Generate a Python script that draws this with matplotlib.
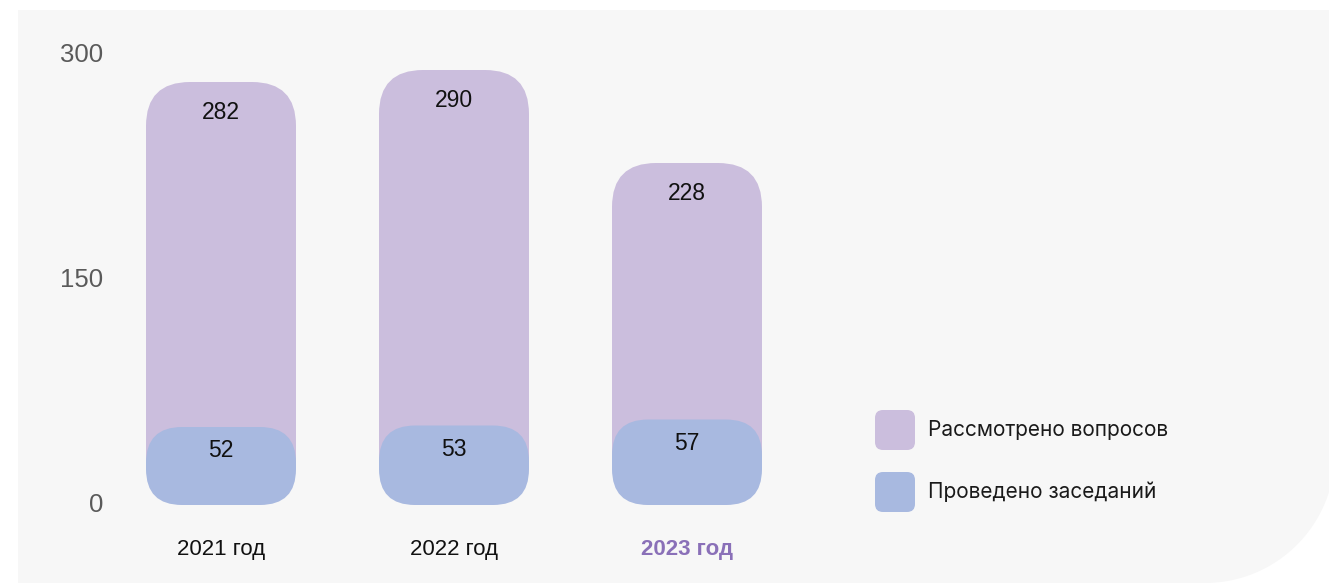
import numpy as np
import matplotlib
matplotlib.use('Agg')
import matplotlib.pyplot as plt
from matplotlib.patches import FancyBboxPatch, Polygon
from matplotlib.transforms import Affine2D

plt.rcParams['font.family'] = ['Liberation Sans', 'DejaVu Sans']

# data
years = ['2021 год', '2022 год', '2023 год']
questions = [282, 290, 228]   # Рассмотрено вопросов
meetings = [52, 53, 57]       # Проведено заседаний
yticks = [0, 150, 300]
legend_labels = ['Рассмотрено вопросов', 'Проведено заседаний']

purple = '#cbbedd'
blue = '#a8b9e0'
accent = '#8a70b8'
panel = '#f7f7f7'

W, H = 1329, 585
fig = plt.figure(figsize=(W / 100, H / 100), dpi=100)
fig.patch.set_facecolor('white')
px = Affine2D().scale(1 / 100) + fig.dpi_scale_trans  # pixel coords from bottom-left

# background panel with rounded bottom-right corner
R, cx, cy = 130, 1205, 453
t = np.linspace(0, np.pi / 2, 40)
arc = [(cx + R * np.cos(a), cy + R * np.sin(a)) for a in t]
pts = [(18, 10), (cx + R, 10)] + arc + [(18, 583)]
pts = [(x, H - y) for x, y in pts]
fig.patches.append(Polygon(pts, closed=True, transform=px, facecolor=panel,
                           edgecolor='none', zorder=-5))

# axes spanning the whole figure; scales chosen to match pixel layout
ax = fig.add_axes([0, 0, 1, 1])
ax.axis('off')
ax.patch.set_visible(False)
x0_px, step_px = 221, 233
zero_px, ppu = 505, 1.5
ax.set_xlim(-x0_px / step_px, (W - x0_px) / step_px)
ax.set_ylim(-(H - zero_px) / ppu, zero_px / ppu)

aspect = (1 / ppu) / (1 / step_px)
bar_w = 150 / step_px
x = np.arange(len(years))


def rounded_bar(xc, h, color, r_px):
    p = FancyBboxPatch((xc - bar_w / 2, 0), bar_w, h,
                       boxstyle=f'round,pad=0,rounding_size={r_px / step_px}',
                       mutation_aspect=aspect, facecolor=color,
                       edgecolor='none', zorder=2)
    ax.add_patch(p)


for i in x:
    rounded_bar(i, questions[i], purple, 44)
    rounded_bar(i, meetings[i], blue, 36)
    ax.annotate(str(questions[i]), (i, questions[i]), xytext=(0, -22),
                textcoords='offset points', ha='center', va='center',
                fontsize=16.5, color='#111111', zorder=3)
    ax.annotate(str(meetings[i]), (i, meetings[i]), xytext=(0, -17),
                textcoords='offset points', ha='center', va='center',
                fontsize=16.5, color='#111111', zorder=3)
    last = i == len(years) - 1
    ax.text(i, (zero_px - 549) / ppu, years[i], ha='center', va='center',
            fontsize=16, color=accent if last else '#111111',
            fontweight='bold' if last else 'normal')

for v in yticks:
    ax.text(103 / W, v, str(v), transform=ax.get_yaxis_transform(),
            ha='right', va='center', fontsize=18.5, color='#5a5a5a')

# legend
for k, (lab, col) in enumerate(zip(legend_labels, [purple, blue])):
    yc = 430 + 62 * k
    fig.patches.append(FancyBboxPatch((875, H - yc - 20), 40, 40,
                                      boxstyle='round,pad=0,rounding_size=8',
                                      transform=px, facecolor=col,
                                      edgecolor='none', zorder=2))
    fig.text(928 / W, 1 - yc / H, lab, ha='left', va='center',
             fontsize=15, color='#1a1a1a', family=['Inter', 'DejaVu Sans'])

fig.savefig('out.png', dpi=100, facecolor='white')
